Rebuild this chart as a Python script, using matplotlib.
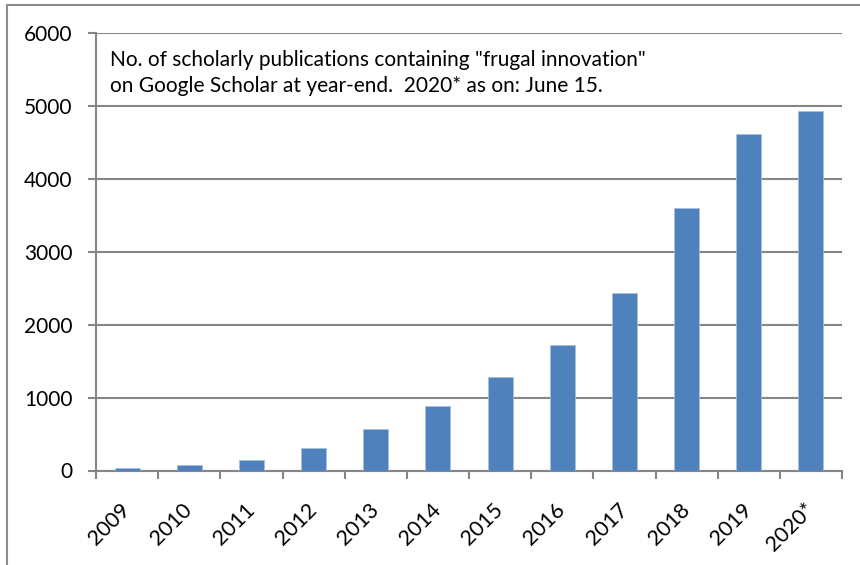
import numpy as np
import matplotlib.pyplot as plt
from matplotlib.lines import Line2D

# Data
years = ['2009', '2010', '2011', '2012', '2013', '2014',
         '2015', '2016', '2017', '2018', '2019', '2020*']
counts = [35, 70, 145, 305, 570, 885, 1288, 1726, 2431, 3597, 4620, 4931]
y_ticks = [0, 1000, 2000, 3000, 4000, 5000, 6000]

note = ('No. of scholarly publications containing "frugal innovation"\n'
        'on Google Scholar at year-end.  2020* as on: June 15.')

plt.rcParams['font.family'] = ['Lato', 'DejaVu Sans']
grey = '#868686'

fig = plt.figure(figsize=(8.6, 5.65), dpi=100)
ax = fig.add_axes([96 / 860, 1 - 470.5 / 565, 746 / 860, 437.5 / 565])

x = np.arange(len(years))
ax.bar(x, counts, width=0.4, color='#4F81BD', edgecolor='#A7C0DE',
       linewidth=0.5, zorder=3)

ax.set_xlim(-0.5, len(years) - 0.5)
ax.set_ylim(0, 6000)
ax.set_yticks(y_ticks)
ax.set_yticklabels([str(v) for v in y_ticks], fontsize=15)
ax.yaxis.grid(True, color=grey, linewidth=1.5, zorder=0)

# category labels between boundary ticks
ax.set_xticks(np.arange(len(years) + 1) - 0.5)
ax.set_xticklabels([])
ax.set_xticks(x, minor=True)
ax.set_xticklabels(years, minor=True, rotation=45, ha='right', va='center',
                   rotation_mode='anchor', fontsize=15.5)
ax.tick_params(axis='x', which='minor', length=0, pad=26)
ax.tick_params(axis='x', which='major', length=6, width=1.5, color=grey)
ax.tick_params(axis='y', length=6, width=1.5, color=grey, pad=11)

for s in ['top', 'right']:
    ax.spines[s].set_visible(False)
for s in ['left', 'bottom']:
    ax.spines[s].set_color(grey)
    ax.spines[s].set_linewidth(1.5)

ax.text(110 / 860, 1 - 50 / 565, note, transform=fig.transFigure,
        fontsize=15, va='top', ha='left', linespacing=1.35)

# outer chart border (cut off at right and bottom in the reference)
fig.add_artist(Line2D([7 / 860, 7 / 860], [0, 1 - 5 / 565],
                      transform=fig.transFigure, color='#8C8C8C', lw=1.5))
fig.add_artist(Line2D([7 / 860, 1], [1 - 5 / 565, 1 - 5 / 565],
                      transform=fig.transFigure, color='#8C8C8C', lw=1.5))

fig.savefig('out.png', dpi=100)
